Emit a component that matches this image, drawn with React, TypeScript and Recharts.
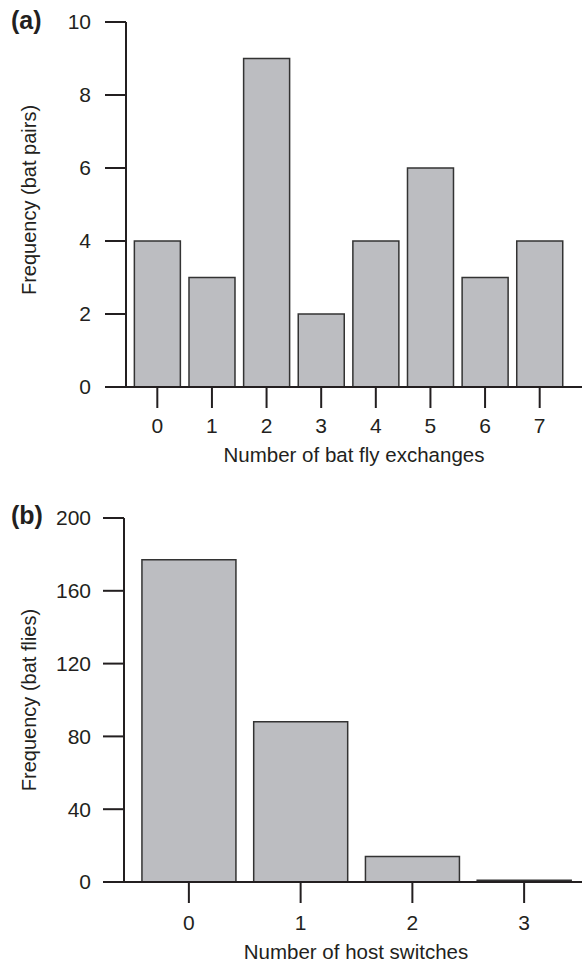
import { BarChart, Bar, XAxis, YAxis } from "recharts"

// 데이터
const exchangeCategories = ["0", "1", "2", "3", "4", "5", "6", "7"]
const batPairCounts = [4, 3, 9, 2, 4, 6, 3, 4]
const pairTicks = [0, 2, 4, 6, 8, 10]

const switchCategories = ["0", "1", "2", "3"]
const batFlyCounts = [177, 88, 14, 1]
const flyTicks = [0, 40, 80, 120, 160, 200]

const INK = "#231f20"
const BAR_FILL = "#bcbdc1"
const FONT = '"Liberation Sans", Arial, Helvetica, sans-serif'

const exchangeData = exchangeCategories.map((name, i) => ({ name, value: batPairCounts[i] }))
const switchData = switchCategories.map((name, i) => ({ name, value: batFlyCounts[i] }))

const tickStyle = { fill: INK, fontSize: 21, fontFamily: FONT }

const yLabel = (text: string, cx: number, cy: number) => () => (
  <text
    x={cx}
    y={cy}
    transform={`rotate(-90 ${cx} ${cy})`}
    textAnchor="middle"
    dominantBaseline="central"
    fill={INK}
    fontSize={20}
    fontFamily={FONT}
  >
    {text}
  </text>
)

const xLabel = (text: string, cx: number, baseline: number) => () => (
  <text x={cx} y={baseline} textAnchor="middle" fill={INK} fontSize={20.5} fontFamily={FONT}>
    {text}
  </text>
)

const panelTag = (text: string, top: number) => (
  <div
    style={{
      position: "absolute",
      left: 11,
      top,
      fontFamily: FONT,
      fontWeight: "bold",
      fontSize: 25,
      lineHeight: "25px",
      color: INK,
    }}
  >
    {text}
  </div>
)

export default function App() {
  return (
    <div style={{ position: "absolute", left: 0, top: 0, width: 584, height: 963, background: "#fff" }}>
      {panelTag("(a)", 8)}
      {panelTag("(b)", 503)}

      {/* (a) 박쥐 쌍별 교환 횟수 */}
      <div style={{ position: "absolute", left: 0, top: 0 }}>
        <BarChart
          width={584}
          height={470}
          data={exchangeData}
          margin={{ top: 22, right: 2, left: 0, bottom: 0 }}
          barCategoryGap="8%"
        >
          <XAxis
            dataKey="name"
            height={83}
            padding={{ left: 4, right: 15 }}
            axisLine={{ stroke: INK, strokeWidth: 2 }}
            tickLine={{ stroke: INK, strokeWidth: 2 }}
            tickSize={21}
            tickMargin={10}
            tick={tickStyle}
            label={{ content: xLabel("Number of bat fly exchanges", 354, 462) }}
          />
          <YAxis
            width={126}
            domain={[0, 10]}
            ticks={pairTicks}
            axisLine={{ stroke: INK, strokeWidth: 2 }}
            tickLine={{ stroke: INK, strokeWidth: 2 }}
            tickSize={21}
            tickMargin={14}
            tick={tickStyle}
            label={{ content: yLabel("Frequency (bat pairs)", 29, 200) }}
          />
          <Bar dataKey="value" fill={BAR_FILL} stroke="#333" strokeWidth={1.5} isAnimationActive={false} />
        </BarChart>
      </div>

      {/* (b) 숙주 전환 횟수 */}
      <div style={{ position: "absolute", left: 0, top: 470 }}>
        <BarChart
          width={584}
          height={493}
          data={switchData}
          margin={{ top: 48, right: 2, left: 0, bottom: 0 }}
          barCategoryGap="8%"
        >
          <XAxis
            dataKey="name"
            height={81}
            padding={{ left: 9, right: 2 }}
            axisLine={{ stroke: INK, strokeWidth: 2 }}
            tickLine={{ stroke: INK, strokeWidth: 2 }}
            tickSize={21}
            tickMargin={12}
            tick={tickStyle}
            label={{ content: xLabel("Number of host switches", 356, 489) }}
          />
          <YAxis
            width={124}
            domain={[0, 200]}
            ticks={flyTicks}
            axisLine={{ stroke: INK, strokeWidth: 2 }}
            tickLine={{ stroke: INK, strokeWidth: 2 }}
            tickSize={21}
            tickMargin={12}
            tick={tickStyle}
            label={{ content: yLabel("Frequency (bat flies)", 29, 230) }}
          />
          <Bar dataKey="value" fill={BAR_FILL} stroke="#333" strokeWidth={1.5} isAnimationActive={false} />
        </BarChart>
      </div>
    </div>
  )
}
